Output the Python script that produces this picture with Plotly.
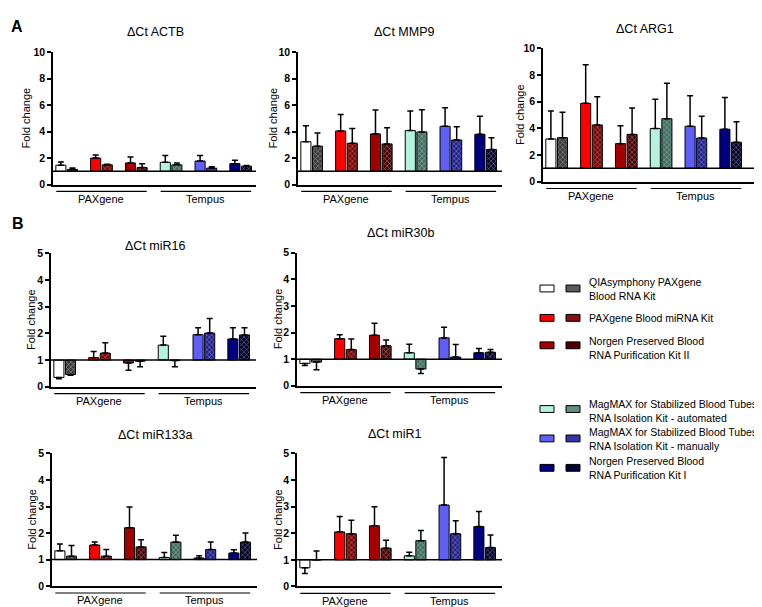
import plotly.graph_objects as go

W, H = 762, 607
FONT = "Liberation Sans, Arial, sans-serif"

# ---------------- data ----------------
kits = [
    "QIAsymphony PAXgene<br>Blood RNA Kit",
    "PAXgene Blood miRNA Kit",
    "Norgen Preserved Blood<br>RNA Purification Kit II",
    "MagMAX for Stabilized Blood Tubes<br>RNA Isolation Kit - automated",
    "MagMAX for Stabilized Blood Tubes<br>RNA Isolation Kit - manually",
    "Norgen Preserved Blood<br>RNA Purification Kit I",
]
tube_groups = ["PAXgene", "Tempus"]
targets = ["ΔCt ACTB", "ΔCt MMP9", "ΔCt ARG1", "ΔCt miR16", "ΔCt miR30b", "ΔCt miR133a", "ΔCt miR1"]

# each list: kit1 solid, kit1 hatched, kit2 solid, kit2 hatched, ...
actb_mean = [1.46, 1.14, 2.00, 1.49, 1.63, 1.29, 1.68, 1.49, 1.78, 1.24, 1.58, 1.39]
actb_err = [1.71, 1.26, 2.23, 1.53, 2.08, 1.58, 2.20, 1.63, 2.20, 1.34, 1.83, 1.44]
mmp9_mean = [3.24, 2.90, 4.05, 3.12, 3.83, 3.07, 4.08, 3.98, 4.40, 3.37, 3.80, 2.65]
mmp9_err = [4.45, 3.90, 5.30, 4.23, 5.63, 4.30, 5.55, 5.65, 5.80, 4.37, 5.16, 3.54]
arg1_mean = [3.20, 3.30, 5.87, 4.25, 2.85, 3.54, 3.98, 4.72, 4.15, 3.27, 3.93, 2.95]
arg1_err = [5.30, 5.20, 8.77, 6.36, 4.20, 5.53, 6.17, 7.37, 6.44, 4.91, 6.31, 4.50]
mir16_mean = [0.35, 0.46, 1.09, 1.26, 0.89, 0.96, 1.56, 0.98, 1.95, 2.01, 1.79, 1.94]
mir16_err = [0.30, 0.43, 1.32, 1.65, 0.62, 0.75, 1.89, 0.75, 2.21, 2.56, 2.21, 2.21]
mir30b_mean = [0.84, 0.89, 1.77, 1.36, 1.90, 1.50, 1.24, 0.63, 1.80, 1.08, 1.24, 1.26]
mir30b_err = [0.76, 0.60, 1.92, 1.76, 2.35, 1.72, 1.56, 0.46, 2.20, 1.55, 1.40, 1.36]
mir133a_mean = [1.33, 1.13, 1.55, 1.13, 2.20, 1.48, 1.08, 1.66, 1.06, 1.38, 1.25, 1.66]
mir133a_err = [1.59, 1.53, 1.66, 1.38, 2.98, 1.75, 1.27, 1.92, 1.15, 1.66, 1.37, 2.00]
mir1_mean = [0.70, 1.00, 2.05, 1.98, 2.28, 1.44, 1.15, 1.72, 3.06, 1.98, 2.25, 1.46]
mir1_err = [0.49, 1.33, 2.63, 2.49, 3.00, 1.74, 1.29, 2.10, 4.85, 2.47, 2.82, 1.93]

# ---------------- styles ----------------
solid_colors = ["#ffffff", "#ff0000", "#a50000", "#b4f2de", "#5f5ff5", "#000080"]
pat_base = ["#3a3a3a", "#7a0000", "#4a0000", "#3f6f60", "#202090", "#00002a"]
pat_fg = ["#d8d8d8", "#ff3a3a", "#b01818", "#bff0e0", "#8080ff", "#2a2aa0"]
swatch_pat = ["#5a5a5a", "#8a1010", "#4a0000", "#5f8f80", "#3535a8", "#00003a"]

slots = [0, 1, 3, 4, 6, 7, 9, 10, 12, 13, 15, 16]
group_span = [(-0.4, 7.4), (8.6, 16.4)]
group_mid = [3.5, 12.5]
BASE = 1.0
PX_PER_UNIT = 11.6
X0 = -0.68

# (title, mean, err, ymax, dtick, (left, right, top, bottom) px, title xy px, ytitle x px)
panels = [
    (targets[0], actb_mean, actb_err, 10, 2, (45, 248, 39, 174), (147, 18), 18),
    (targets[1], mmp9_mean, mmp9_err, 10, 2, (290, 494, 39, 174), (396, 18), 265),
    (targets[2], arg1_mean, arg1_err, 10, 2, (535, 747, 35, 171), (637, 15), 512),
    (targets[3], mir16_mean, mir16_err, 5, 1, (43, 248, 244, 380.3), (147, 237), 23),
    (targets[4], mir30b_mean, mir30b_err, 5, 1, (289, 494, 243.5, 379.3), (392, 223), 270),
    (targets[5], mir133a_mean, mir133a_err, 5, 1, (44, 249, 448.3, 583.7), (147, 430), 24),
    (targets[6], mir1_mean, mir1_err, 5, 1, (289, 494, 448.3, 584), (387, 428), 270),
]


def px(x):
    return x / W


def py(y):
    return 1 - y / H


fig = go.Figure()
shapes = []
annotations = []

bar_colors = []
pshape = []
pfg = []
for k in range(len(kits)):
    bar_colors += [solid_colors[k], pat_base[k]]
    pshape += ["", "x"]
    pfg += [solid_colors[k], pat_fg[k]]

for i, (title, mean, err, ymax, dtick, box, tpos, ytx) in enumerate(panels):
    n = i + 1
    xa = "x" if n == 1 else f"x{n}"
    ya = "y" if n == 1 else f"y{n}"
    left, right, top, bottom = box
    xmax = X0 + (right - left) / PX_PER_UNIT

    fig.add_trace(go.Bar(
        x=slots, y=[m - BASE for m in mean], base=BASE, width=0.87,
        marker=dict(color=bar_colors, line=dict(color="black", width=1),
                    pattern=dict(shape=pshape, fgcolor=pfg, size=3.5,
                                 solidity=0.3, fillmode="overlay")),
        xaxis=xa, yaxis=ya, showlegend=False, hoverinfo="skip",
    ))
    plus = [max(e - m, 0) for m, e in zip(mean, err)]
    minus = [max(m - e, 0) for m, e in zip(mean, err)]
    fig.add_trace(go.Scatter(
        x=slots, y=mean, mode="markers",
        marker=dict(size=1, color="rgba(0,0,0,0)"),
        error_y=dict(type="data", symmetric=False, array=plus, arrayminus=minus,
                     color="black", thickness=1.5, width=3),
        xaxis=xa, yaxis=ya, showlegend=False, hoverinfo="skip",
    ))

    lay_x = "xaxis" if n == 1 else f"xaxis{n}"
    lay_y = "yaxis" if n == 1 else f"yaxis{n}"
    fig.layout[lay_x] = dict(
        domain=[px(left), px(right)], range=[X0, xmax], anchor=ya,
        showline=True, linecolor="black", linewidth=1.5, showticklabels=False,
        ticks="", showgrid=False, zeroline=False, fixedrange=True,
    )
    fig.layout[lay_y] = dict(
        domain=[py(bottom), py(top)], range=[0, ymax], anchor=xa,
        tickmode="linear", tick0=0, dtick=dtick,
        showline=True, linecolor="black", linewidth=1.5,
        ticks="outside", ticklen=4, tickwidth=1.5, tickcolor="black",
        tickfont=dict(family=FONT, size=10.5, color="black", weight="bold"),
        showgrid=False, zeroline=False, fixedrange=True,
    )

    # reference line at fold change = 1
    shapes.append(dict(type="line", xref=f"{xa} domain", yref=ya, x0=0, x1=1, y0=BASE, y1=BASE,
                       line=dict(color="black", width=1.5), layer="above"))
    # group lines and labels
    for (g0, g1), gm, gname in zip(group_span, group_mid, tube_groups):
        shapes.append(dict(type="line", xref=xa, yref="paper", x0=g0, x1=g1,
                           y0=py(bottom + 7), y1=py(bottom + 7),
                           line=dict(color="black", width=1.2)))
        annotations.append(dict(text=gname, xref=xa, yref="paper", x=gm, y=py(bottom + 14.5),
                                showarrow=False, xanchor="center", yanchor="middle",
                                font=dict(family=FONT, size=11, color="black")))
    # subplot title
    annotations.append(dict(text=title, xref="paper", yref="paper", x=px(tpos[0]), y=py(tpos[1]),
                            showarrow=False, xanchor="center", yanchor="middle",
                            font=dict(family=FONT, size=12.5, color="black")))
    # y axis title
    annotations.append(dict(text="Fold change", xref="paper", yref="paper", x=px(ytx),
                            y=py((top + bottom) / 2), textangle=-90, showarrow=False,
                            xanchor="center", yanchor="middle",
                            font=dict(family=FONT, size=11, color="black")))

# panel letters
annotations.append(dict(text="<b>A</b>", xref="paper", yref="paper", x=px(9), y=py(12.5),
                        showarrow=False, xanchor="center", yanchor="middle",
                        font=dict(family=FONT, size=16, color="black")))
annotations.append(dict(text="<b>B</b>", xref="paper", yref="paper", x=px(9.5), y=py(213.5),
                        showarrow=False, xanchor="center", yanchor="middle",
                        font=dict(family=FONT, size=16, color="black")))

# custom legend
legend_rows = [(280, 280.5), (310, 310), (338, 340.5), (403, 404.5), (433, 434), (463, 463.5)]
for k, (sy, ty) in enumerate(legend_rows):
    shapes.append(dict(type="rect", xref="paper", yref="paper",
                       x0=px(532), x1=px(546), y0=py(sy + 3.5), y1=py(sy - 3.5),
                       fillcolor=solid_colors[k], line=dict(color="black", width=1)))
    shapes.append(dict(type="rect", xref="paper", yref="paper",
                       x0=px(558), x1=px(572), y0=py(sy + 3.5), y1=py(sy - 3.5),
                       fillcolor=swatch_pat[k], line=dict(color="black", width=1)))
    annotations.append(dict(text=kits[k], xref="paper", yref="paper", x=px(579), y=py(ty),
                            showarrow=False, xanchor="left", yanchor="middle", align="left",
                            font=dict(family=FONT, size=10.5, color="black")))

fig.update_layout(
    width=W, height=H, margin=dict(l=0, r=0, t=0, b=0),
    paper_bgcolor="white", plot_bgcolor="white",
    shapes=shapes, annotations=annotations, showlegend=False,
    barmode="overlay", font=dict(family=FONT, color="black"),
)

fig.write_html("out.html")
